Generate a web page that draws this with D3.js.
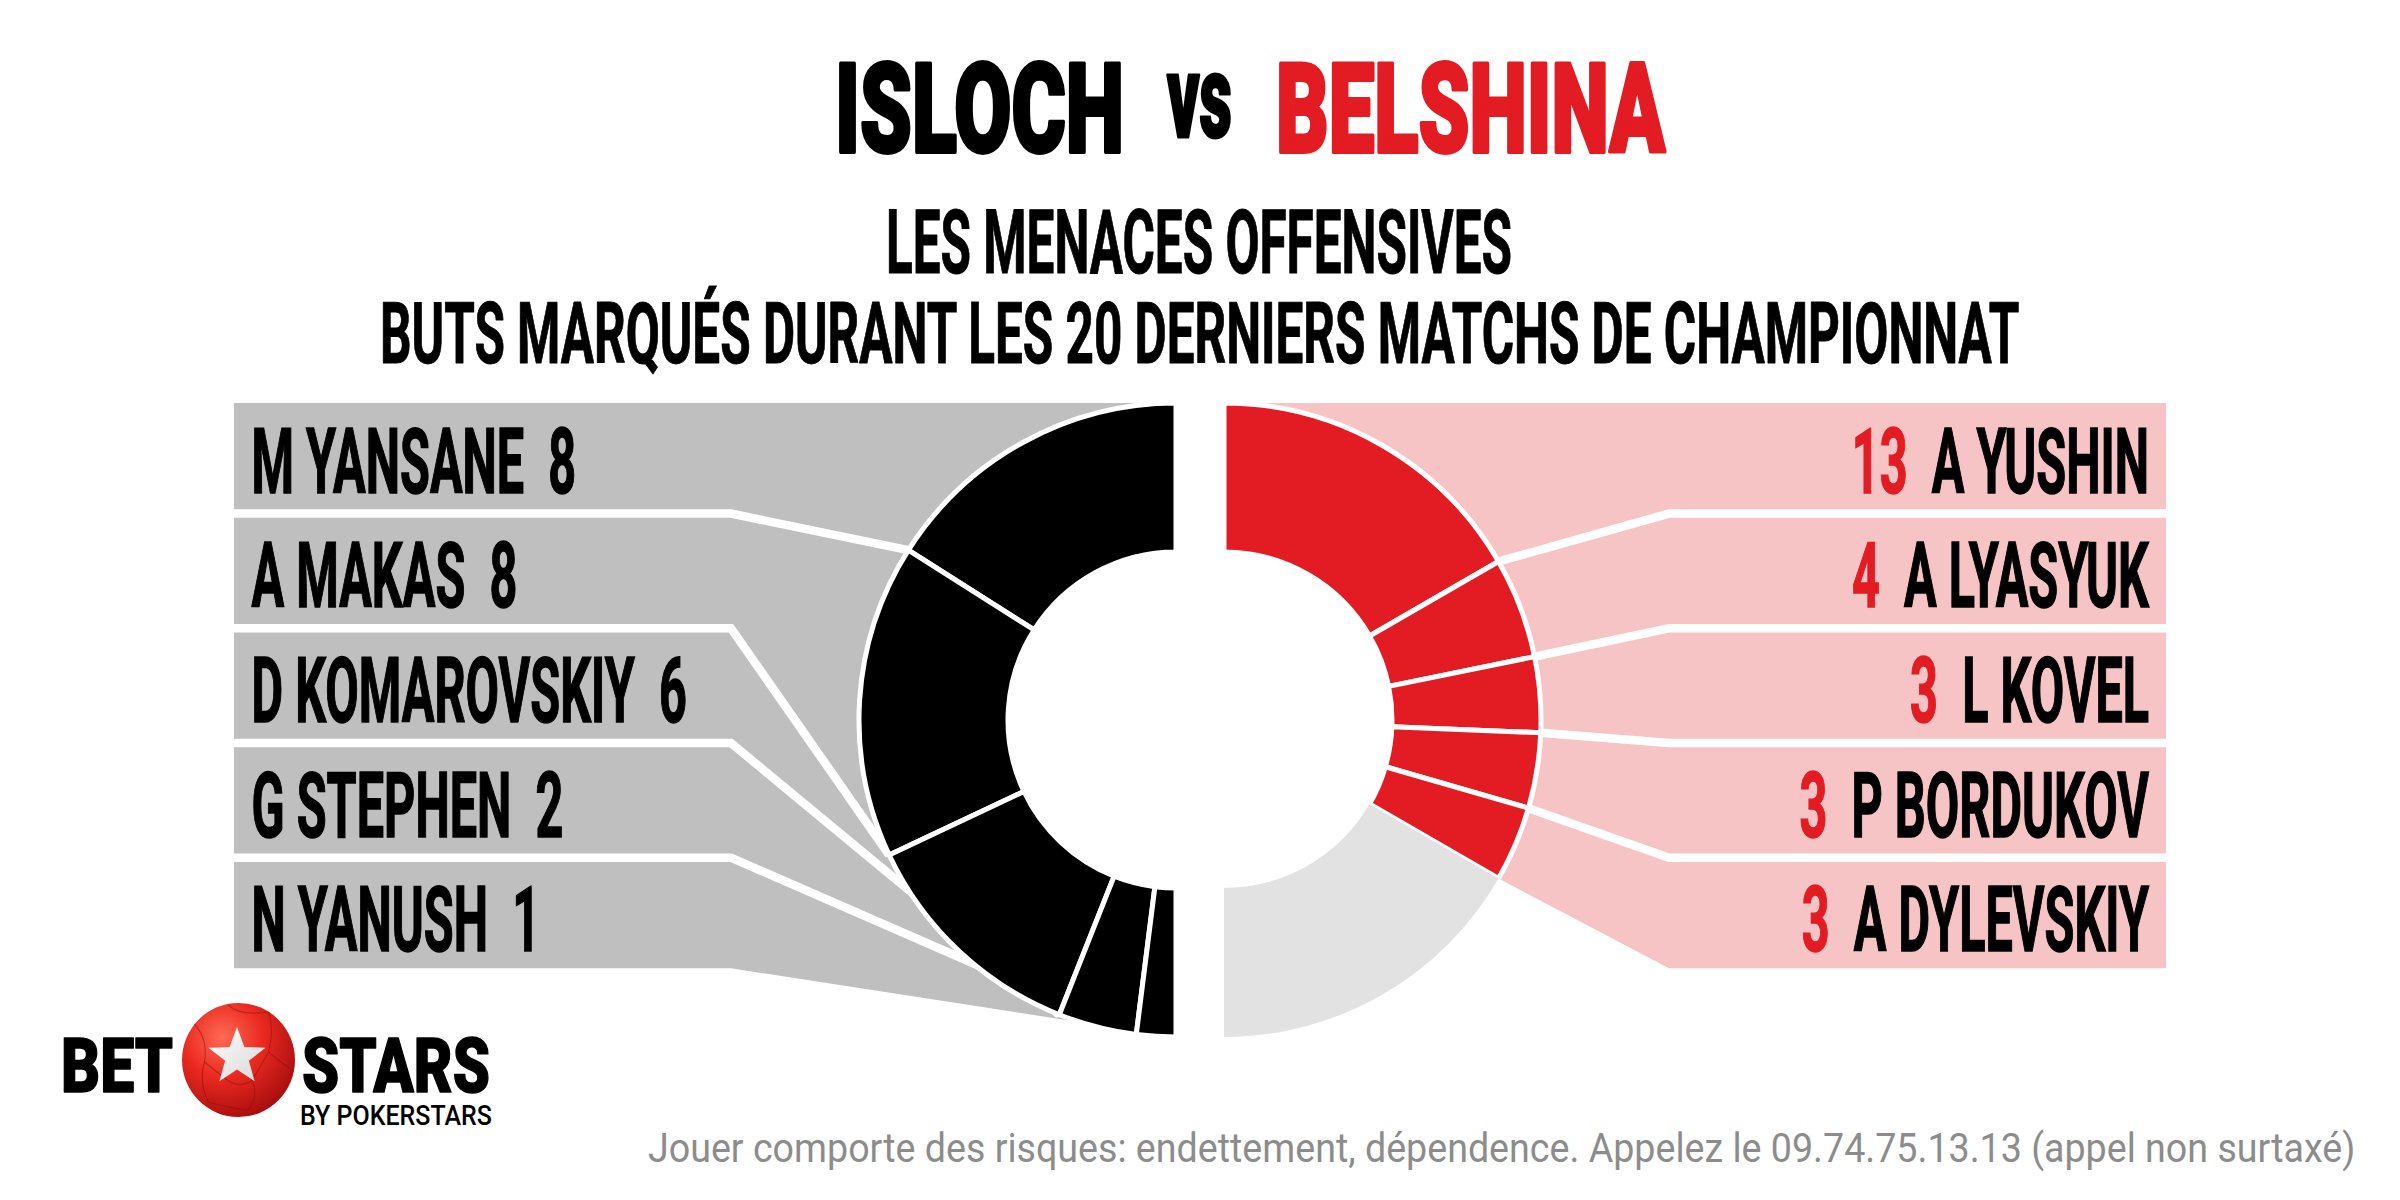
<!DOCTYPE html>
<html><head><meta charset="utf-8">
<script src="https://cdn.jsdelivr.net/npm/d3@7"></script>
<style>
html,body{margin:0;padding:0;background:#fff;}
svg{display:block;}
text{white-space:pre;}
</style></head>
<body>
<svg id="c" width="2400" height="1200"></svg>
<script>
// ---------- DATA ----------
const homeTeam = "ISLOCH";
const awayTeam = "BELSHINA";
const versusLabel = "vs";
const titleLine1 = "LES MENACES OFFENSIVES";
const titleLine2 = "BUTS MARQUÉS DURANT LES 20 DERNIERS MATCHS DE CHAMPIONNAT";
const homePlayers = ["M YANSANE", "A MAKAS", "D KOMAROVSKIY", "G STEPHEN", "N YANUSH"];
const homeGoals = [8, 8, 6, 2, 1];
const awayPlayers = ["A YUSHIN", "A LYASYUK", "L KOVEL", "P BORDUKOV", "A DYLEVSKIY"];
const awayGoals = [13, 4, 3, 3, 3];
const awayOtherGoals = 13;   // remaining team goals (light grey arc)
const disclaimer = "Jouer comporte des risques: endettement, dépendence. Appelez le 09.74.75.13.13 (appel non surtaxé)";
const brandLeft = "BET", brandRight = "STARS", brandSub = "BY POKERSTARS";

// ---------- STYLE / LAYOUT ----------
const RED = "#e31b23", PINK = "#f6c4c5", GREY = "#bfbfbf", LIGHT = "#e2e2e2";
const FONT = "Roboto, 'Liberation Sans', 'DejaVu Sans', sans-serif";
const cy = 720, rOuter = 317, rInner = 168;
const cxL = 1176, cxR = 1224;
const bandX0 = 234, bandCornerL = 731, bandX1 = 2166, bandCornerR = 1669;
const bandTop = 403, bandBottom = 968.3;
const labelSize = 90, labelSX = 0.54;

const svg = d3.select("#c");

// defs
const defs = svg.append("defs");
const g1 = defs.append("radialGradient").attr("id","ball").attr("cx","0.36").attr("cy","0.3").attr("r","0.78");
g1.append("stop").attr("offset","0").attr("stop-color","#ff6a55");
g1.append("stop").attr("offset","0.45").attr("stop-color","#ea2a20");
g1.append("stop").attr("offset","1").attr("stop-color","#a10a0c");
const g2 = defs.append("linearGradient").attr("id","star").attr("x1","0").attr("y1","0").attr("x2","1").attr("y2","1");
g2.append("stop").attr("offset","0").attr("stop-color","#ffffff");
g2.append("stop").attr("offset","1").attr("stop-color","#d6d6d6");

// ---------- TITLES ----------
// condensed text: horizontally scaled so that its drawn width equals `len`
function condText(sel, txt, x, y, size, weight, fill, len, sw){
  const t = sel.append("text").attr("x",0).attr("y",0).attr("font-family",FONT)
    .attr("font-size",size).attr("font-weight",weight).attr("fill",fill).text(txt);
  if (sw) t.attr("stroke",fill).attr("stroke-width",sw).attr("stroke-linejoin","round");
  const w = t.node().getComputedTextLength();
  t.attr("transform",`translate(${x},${y}) scale(${len/w},1)`);
  return t;
}
condText(svg, homeTeam, 835, 152, 124, 900, "#000", 289, 4);
condText(svg, versusLabel, 1167, 137, 116, 900, "#000", 65, 3);
condText(svg, awayTeam, 1276, 152, 124, 900, RED, 389, 4);
condText(svg, titleLine1, 886, 273.3, 88.6, 700, "#000", 626, 1);
condText(svg, titleLine2, 380, 363, 86, 700, "#000", 1640, 1);

// ---------- SCALES ----------
const yL = d3.scaleBand().domain(homePlayers).range([bandTop, bandBottom]).paddingInner(0.0715).paddingOuter(0);
const yR = d3.scaleBand().domain(awayPlayers).range([bandTop, bandBottom]).paddingInner(0.0715).paddingOuter(0);
const gapMid = (yL.step() - yL.bandwidth())/2;

const pieL = d3.pie().sort(null).startAngle(0).endAngle(-Math.PI).value(d=>d.v);
const pieR = d3.pie().sort(null).startAngle(0).endAngle(Math.PI).value(d=>d.v);
const homeData = homePlayers.map((n,i)=>({name:n, v:homeGoals[i], fill:"#000"}));
const awayData = awayPlayers.map((n,i)=>({name:n, v:awayGoals[i], fill:RED}))
  .concat([{name:"others", v:awayOtherGoals, fill:LIGHT}]);
const arcsL = pieL(homeData), arcsR = pieR(awayData);
const arc = d3.arc().innerRadius(rInner).outerRadius(rOuter);
const hole = d3.arc().innerRadius(0).outerRadius(rInner);
const pt = (cx, a) => [cx + rOuter*Math.sin(a), cy - rOuter*Math.cos(a)];

// ---------- BANDS ----------
const lastL = arcsL[homePlayers.length-1].endAngle;
const lastR = arcsR[awayPlayers.length-1].endAngle;
svg.append("path").attr("fill",GREY).attr("d", d3.line()([
  [bandX0,bandTop],[cxL,bandTop],[cxL,cy],pt(cxL,lastL),[bandCornerL,bandBottom],[bandX0,bandBottom]]));
svg.append("path").attr("fill",PINK).attr("d", d3.line()([
  [bandX1,bandTop],[cxR,bandTop],[cxR,cy],pt(cxR,lastR),[bandCornerR,bandBottom],[bandX1,bandBottom]]));

// separator lines
homePlayers.slice(0,-1).forEach((n,i)=>{
  const yy = yL(n) + yL.bandwidth() + gapMid;
  svg.append("path").attr("fill","none").attr("stroke","#fff").attr("stroke-width",8.5)
    .attr("d", d3.line()([[bandX0-2,yy],[bandCornerL,yy],pt(cxL, arcsL[i].endAngle)]));
});
awayPlayers.slice(0,-1).forEach((n,i)=>{
  const yy = yR(n) + yR.bandwidth() + gapMid;
  svg.append("path").attr("fill","none").attr("stroke","#fff").attr("stroke-width",8.5)
    .attr("d", d3.line()([[bandX1+2,yy],[bandCornerR,yy],pt(cxR, arcsR[i].endAngle)]));
});

// ---------- DONUT HALVES ----------
const gL = svg.append("g").attr("transform",`translate(${cxL},${cy})`);
gL.append("path").attr("fill","#fff").attr("d", hole({startAngle:0,endAngle:-Math.PI}));
gL.selectAll("path.seg").data(arcsL).join("path").attr("class","seg")
  .attr("d",arc).attr("fill",d=>d.data.fill).attr("stroke","#fff").attr("stroke-width",5)
  .attr("stroke-linejoin","round");
const gR = svg.append("g").attr("transform",`translate(${cxR},${cy})`);
gR.append("path").attr("fill","#fff").attr("d", hole({startAngle:0,endAngle:Math.PI}));
gR.selectAll("path.seg").data(arcsR).join("path").attr("class","seg")
  .attr("d",arc).attr("fill",d=>d.data.fill).attr("stroke",d=>d.data.fill===LIGHT?"none":"#fff").attr("stroke-width",5)
  .attr("stroke-linejoin","round");
// clean straight edges
svg.append("rect").attr("x",cxL).attr("y",cy-rOuter-4).attr("width",cxR-cxL).attr("height",2*rOuter+8).attr("fill","#fff");

// ---------- LABELS ----------
const base = 89.5;
homeData.forEach(d=>{
  svg.append("text").attr("transform",`translate(${bandX0+17.5},${yL(d.name)+base}) scale(${labelSX},1)`)
    .attr("font-family",FONT).attr("font-size",labelSize).attr("font-weight",700).attr("fill","#000")
    .attr("stroke","#000").attr("stroke-width",1.5)
    .text(`${d.name}  ${d.v}`);
});
awayData.filter(d=>d.fill===RED).forEach(d=>{
  const t = svg.append("text").attr("transform",`translate(${bandX1-17},${yR(d.name)+base}) scale(${labelSX},1)`)
    .attr("font-family",FONT).attr("font-size",labelSize).attr("font-weight",700).attr("text-anchor","end")
    .attr("stroke-width",1.5);
  t.append("tspan").attr("fill",RED).attr("stroke",RED).text(`${d.v}  `);
  t.append("tspan").attr("fill","#000").attr("stroke","#000").text(d.name);
});

// ---------- LOGO ----------
condText(svg, brandLeft, 61, 1092, 76, 900, "#000", 112, 1.5);
condText(svg, brandRight, 302, 1092, 76, 900, "#000", 188, 1.5);
condText(svg, brandSub, 300, 1125, 28, 500, "#000", 192);
const bx = 238.5, by = 1060;
svg.append("ellipse").attr("cx",bx).attr("cy",by).attr("rx",56.5).attr("ry",57).attr("fill","url(#ball)");
// faint panel seams
const seams = [
  `M${bx-44},${by-36} Q${bx-30},${by-20} ${bx-34},${by+2}`,
  `M${bx-34},${by+2} Q${bx-40},${by+22} ${bx-30},${by+42}`,
  `M${bx-34},${by+2} L${bx-14},${by+18}`,
  `M${bx+30},${by-48} Q${bx+36},${by-30} ${bx+30},${by-8}`,
  `M${bx+30},${by-8} Q${bx+44},${by+4} ${bx+54},${by+10}`,
  `M${bx+30},${by-8} L${bx+14},${by+20}`,
  `M${bx-14},${by+18} Q${bx},${by+30} ${bx+14},${by+20}`,
  `M${bx-10},${by-55} Q${bx},${by-44} ${bx+30},${by-48}`,
  `M${bx-30},${by+42} Q${bx-10},${by+48} ${bx+10},${by+50}`,
  `M${bx+14},${by+20} Q${bx+20},${by+36} ${bx+10},${by+50}`
];
svg.append("g").selectAll("path").data(seams).join("path").attr("d",d=>d)
  .attr("fill","none").attr("stroke","#8e0a0c").attr("stroke-opacity",0.45).attr("stroke-width",1.2);
const starPts = d3.range(10).map(i=>{
  const a = -Math.PI/2 + i*Math.PI/5, r = i%2===0 ? 30 : 12.5;
  return [237 + r*Math.cos(a), 1057 + r*Math.sin(a)];
});
svg.append("path").attr("d", d3.line()(starPts)+"Z").attr("fill","url(#star)");

// ---------- DISCLAIMER ----------
condText(svg, disclaimer, 648, 1162, 41, 400, "#8c8c8c", 1708);
</script>
</body></html>
